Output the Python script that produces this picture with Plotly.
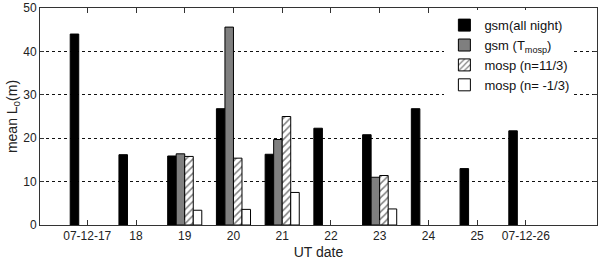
import plotly.graph_objects as go

dates = ["07-12-17", "18", "19", "20", "21", "22", "23", "24", "25", "07-12-26"]
x_pos = [1, 2, 3, 4, 5, 6, 7, 8, 9, 10]
gsm_all = [44.0, 16.2, 15.9, 26.8, 16.3, 22.3, 20.8, 26.8, 13.0, 21.7]
gsm_t = [None, None, 16.4, 45.6, 19.7, None, 11.0, None, None, None]
mosp_pos = [None, None, 15.8, 15.4, 25.0, None, 11.4, None, None, None]
mosp_neg = [None, None, 3.4, 3.6, 7.5, None, 3.7, None, None, None]

fig = go.Figure()
fig.add_trace(go.Bar(x=x_pos, y=gsm_all, name="gsm(all night)",
                     marker=dict(color="black", line=dict(color="black", width=1))))
fig.add_trace(go.Bar(x=x_pos, y=gsm_t, name="gsm (T<sub>mosp</sub>)",
                     marker=dict(color="#7f7f7f", line=dict(color="black", width=1))))
fig.add_trace(go.Bar(x=x_pos, y=mosp_pos, name="mosp (n=11/3)",
                     marker=dict(color="white", line=dict(color="black", width=1),
                                 pattern=dict(shape="/", fgcolor="black", bgcolor="white",
                                              size=5, solidity=0.3))))
fig.add_trace(go.Bar(x=x_pos, y=mosp_neg, name="mosp (n= -1/3)",
                     marker=dict(color="white", line=dict(color="black", width=1))))

axis_common = dict(showline=True, linecolor="#333", linewidth=1, mirror="ticks",
                   ticks="inside", tickcolor="#333", zeroline=False, automargin=False)

fig.update_layout(
    width=600, height=268,
    margin=dict(l=40, r=3, t=8, b=43),
    paper_bgcolor="white", plot_bgcolor="white",
    barmode="group", bargap=0.3, bargroupgap=0,
    font=dict(family="Liberation Sans, Arial, sans-serif", size=12, color="#222"),
    showlegend=True,
    legend=dict(x=0.726, y=0.99, xanchor="left", yanchor="top",
                bgcolor="white", borderwidth=0, tracegroupgap=0,
                font=dict(size=13, color="#111"), itemwidth=30),
    xaxis=dict(**axis_common, range=[0.03, 11.46], tickmode="array",
               tickvals=x_pos, ticktext=dates, ticklen=5, showgrid=False,
               title=dict(text="UT date", font=dict(size=14), standoff=4),
               tickfont=dict(size=12)),
    yaxis=dict(**axis_common, range=[0, 50], tickvals=[0, 10, 20, 30, 40, 50],
               ticklen=4, showgrid=True, gridcolor="#111", griddash="3px,3px",
               gridwidth=1,
               title=dict(text="mean L<sub>0</sub>(m)", font=dict(size=14), standoff=2),
               tickfont=dict(size=12)),
)

fig.write_html("out.html",
               config={"displayModeBar": False},
               post_script="document.body.style.margin='0';document.body.style.overflow='hidden';")
